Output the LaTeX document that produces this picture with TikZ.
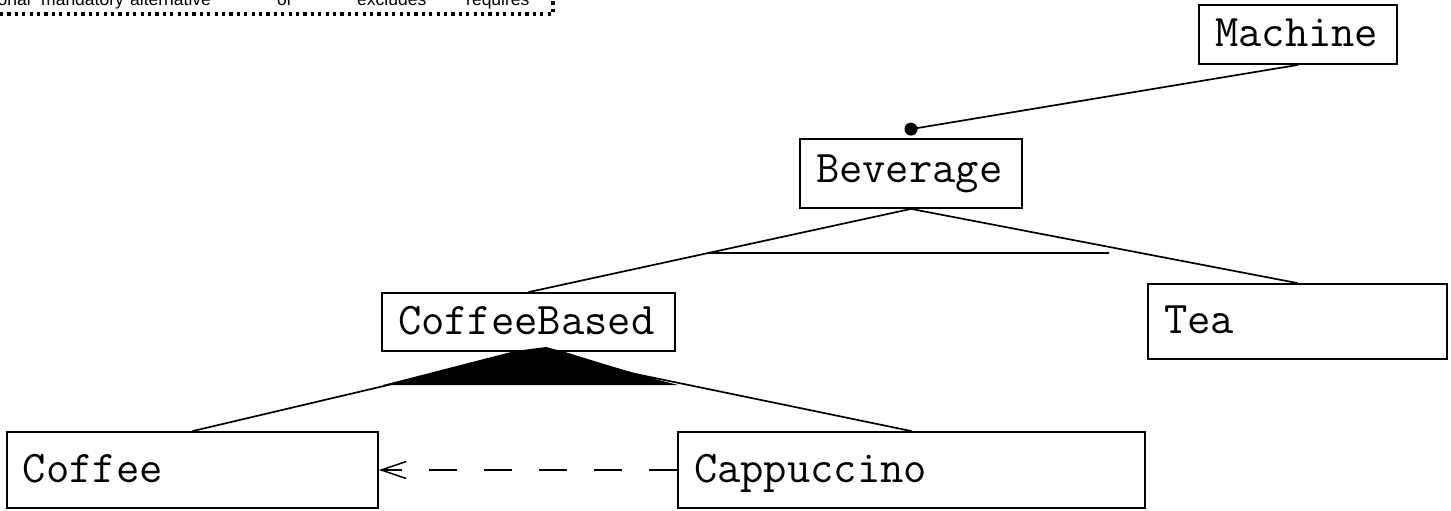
\documentclass[tikz,border=0pt]{standalone}
\usepackage{fontspec}
\newfontfamily\legendfont{Liberation Sans}
\usetikzlibrary{arrows.meta,calc}
\tikzset{
  feat/.style={draw, line width=1.8pt, inner xsep=16pt, inner ysep=0pt, align=left,
    font=\fontsize{45.3pt}{50pt}\selectfont\ttfamily, text height=24pt, text depth=0pt},
  conn/.style={line width=1.7pt},
  legendtext/.style={inner sep=0pt, font=\legendfont\fontsize{17.5pt}{20pt}\selectfont, anchor=base west},
  legendline/.style={line width=3.2pt, dash pattern=on 3.2pt off 4.2pt},
  reqarrow/.style={line width=1.5pt, dash pattern=on 28pt off 27pt, -{Straight Barb[length=25pt,width=17pt,line width=1.5pt]}}
}
\begin{document}
\begin{tikzpicture}[x=1pt,y=-1pt]
\useasboundingbox (0,0) rectangle (1451,511);
% legend fragment
\node[legendtext, anchor=base east] (l1) at (31,6) {onal};
\node[legendtext] (l2) at (41,6) {mandatory};
\node[legendtext] (l3) at (130,6) {alternative};
\node[legendtext] (l4) at (277,6) {or};
\node[legendtext] (l5) at (357,6) {excludes};
\node[legendtext] (l6) at (466,6) {requires};
\coordinate (lg0) at (0,14);
\coordinate (lg1) at (553,14);
\coordinate (lg2) at (553,-5);
\draw[legendline] (lg0) -- (lg1) -- (lg2);
% features
\node[feat, text width=166pt, minimum height=59pt] (machine) at (1298,34.5) {Machine};
\node[feat, text width=190pt, minimum height=69pt, text depth=7pt] (bev) at (911,173.5) {Beverage};
\node[feat, text width=261pt, minimum height=58pt] (cb) at (528.5,322) {CoffeeBased};
\node[feat, text width=267pt, minimum height=75pt] (tea) at (1297.5,321.5) {Tea};
\node[feat, text width=339pt, minimum height=76pt] (coffee) at (192.5,470) {Coffee};
\node[feat, text width=435pt, minimum height=76pt] (capp) at (911.5,470) {Cappuccino};
% Machine -> Beverage (mandatory)
\coordinate (bm) at ($(bev.north)+(0,-9)$);
\draw[conn] (machine.south) -- (bm);
\fill (bm) circle (6.5pt);
% Beverage -> CoffeeBased, Tea
\draw[conn] (bev.south) -- (cb.north);
\draw[conn] (bev.south) -- (tea.north);
\coordinate (altL) at ($(bev.south)!0.53!(cb.north)$);
\coordinate (altR) at (1109,253);
\draw[conn] (altL) -- (altR);
% CoffeeBased -> Coffee, Cappuccino (or)
\fill (383,385) -- (515,351) -- (546,347) -- (565,352) .. controls (610,366) and (650,378) .. (678,385) -- cycle;
\draw[conn] (cb.south) -- (coffee.north);
\draw[conn] (cb.south) -- (capp.north);
% requires
\draw[reqarrow] (capp.west) -- (coffee.east);
\end{tikzpicture}
\end{document}
